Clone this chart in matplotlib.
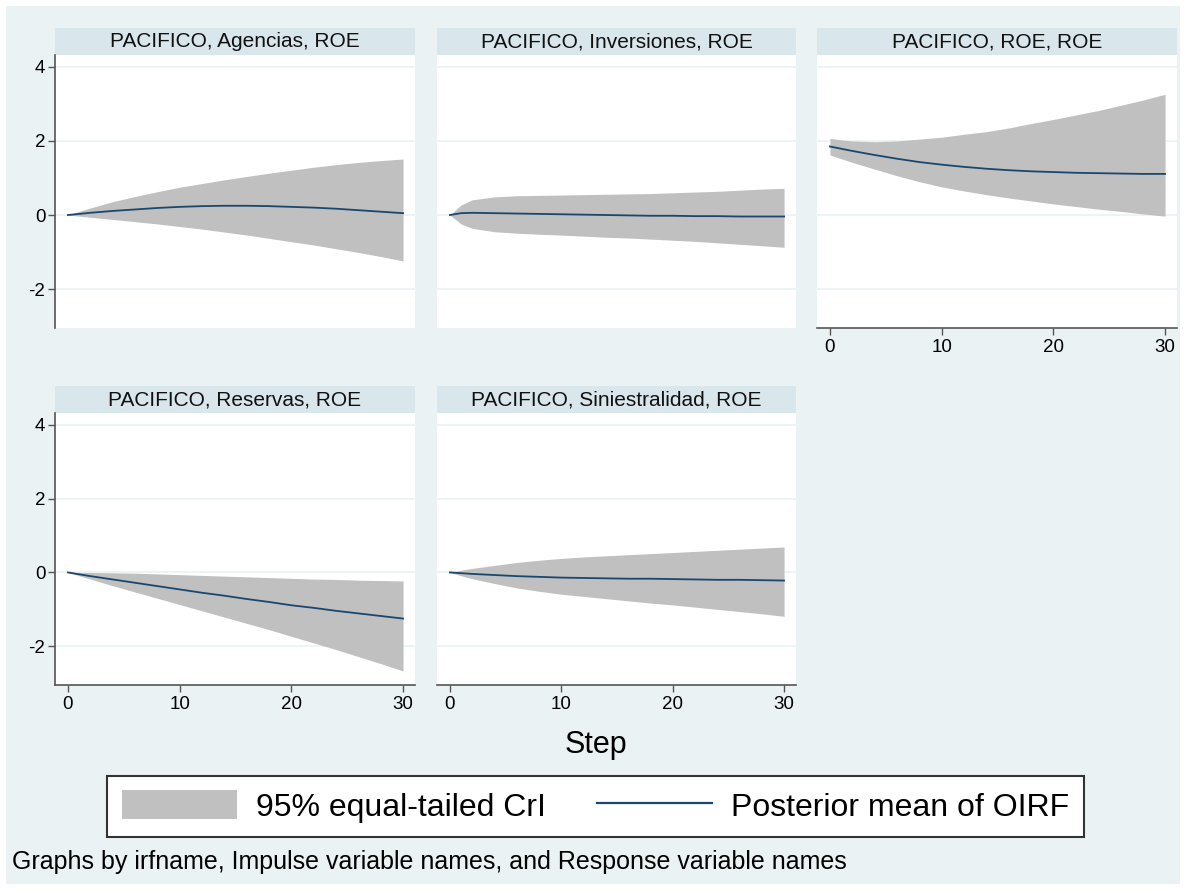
import numpy as np
import matplotlib
matplotlib.use("Agg")
import matplotlib.pyplot as plt
from matplotlib.patches import Patch, Rectangle
from matplotlib.lines import Line2D

plt.rcParams['font.family'] = ['Liberation Sans', 'DejaVu Sans']
plt.rcParams['axes.unicode_minus'] = False

# steps of the impulse response
steps = [0, 1, 2, 4, 6, 8, 10, 12, 14, 16, 18, 20, 22, 24, 26, 28, 30]

titles = ["PACIFICO, Agencias, ROE", "PACIFICO, Inversiones, ROE", "PACIFICO, ROE, ROE",
          "PACIFICO, Reservas, ROE", "PACIFICO, Siniestralidad, ROE"]

# Agencias -> ROE
agen_mean = [0, 0.03, 0.06, 0.11, 0.15, 0.19, 0.22, 0.24, 0.25, 0.25, 0.24, 0.22, 0.2, 0.17, 0.13, 0.09, 0.05]
agen_hi = [0, 0.1, 0.19, 0.36, 0.5, 0.63, 0.75, 0.85, 0.95, 1.04, 1.13, 1.21, 1.29, 1.36, 1.42, 1.47, 1.51]
agen_lo = [0, -0.03, -0.06, -0.12, -0.18, -0.24, -0.31, -0.38, -0.46, -0.54, -0.63, -0.72, -0.81, -0.91, -1.01, -1.12, -1.24]

# Inversiones -> ROE
inv_mean = [0, 0.05, 0.06, 0.05, 0.04, 0.03, 0.02, 0.01, 0.0, -0.01, -0.02, -0.02, -0.03, -0.03, -0.04, -0.04, -0.04]
inv_hi = [0, 0.27, 0.41, 0.49, 0.52, 0.53, 0.54, 0.55, 0.56, 0.57, 0.58, 0.6, 0.62, 0.64, 0.67, 0.7, 0.72]
inv_lo = [0, -0.24, -0.36, -0.45, -0.49, -0.52, -0.54, -0.57, -0.6, -0.62, -0.65, -0.68, -0.71, -0.75, -0.79, -0.83, -0.87]

# ROE -> ROE
roe_mean = [1.85, 1.79, 1.73, 1.62, 1.52, 1.43, 1.36, 1.3, 1.25, 1.21, 1.18, 1.16, 1.14, 1.13, 1.12, 1.11, 1.11]
roe_hi = [2.07, 2.03, 2.0, 1.98, 2.0, 2.05, 2.1, 2.18, 2.25, 2.35, 2.47, 2.58, 2.7, 2.82, 2.96, 3.1, 3.26]
roe_lo = [1.62, 1.52, 1.42, 1.24, 1.06, 0.9, 0.76, 0.65, 0.55, 0.46, 0.38, 0.3, 0.23, 0.16, 0.1, 0.03, -0.03]

# Reservas -> ROE
res_mean = [0, -0.05, -0.1, -0.19, -0.28, -0.37, -0.46, -0.55, -0.63, -0.72, -0.8, -0.89, -0.96, -1.04, -1.11, -1.18, -1.25]
res_hi = [0, 0.0, 0.0, -0.01, -0.02, -0.04, -0.06, -0.08, -0.1, -0.12, -0.14, -0.16, -0.18, -0.19, -0.21, -0.22, -0.23]
res_lo = [0, -0.09, -0.18, -0.36, -0.53, -0.7, -0.87, -1.04, -1.21, -1.38, -1.55, -1.73, -1.91, -2.09, -2.28, -2.47, -2.67]

# Siniestralidad -> ROE
sin_mean = [0, -0.02, -0.04, -0.07, -0.1, -0.12, -0.14, -0.15, -0.16, -0.17, -0.17, -0.18, -0.19, -0.2, -0.2, -0.21, -0.22]
sin_hi = [0, 0.06, 0.11, 0.19, 0.27, 0.33, 0.38, 0.42, 0.45, 0.48, 0.51, 0.54, 0.57, 0.6, 0.63, 0.66, 0.69]
sin_lo = [0, -0.09, -0.17, -0.3, -0.42, -0.51, -0.59, -0.65, -0.71, -0.77, -0.83, -0.88, -0.94, -1.0, -1.06, -1.12, -1.19]

means = [agen_mean, inv_mean, roe_mean, res_mean, sin_mean]
his = [agen_hi, inv_hi, roe_hi, res_hi, sin_hi]
los = [agen_lo, inv_lo, roe_lo, res_lo, sin_lo]

W, H = 1186, 890
bg = "#eaf2f3"
strip_col = "#d9e6eb"
band_col = "#c0c0c0"
line_col = "#1a476f"
axis_col = "#555555"

fig = plt.figure(figsize=(W / 100, H / 100), dpi=100, facecolor="white")
fig.patches.append(Rectangle((6 / W, 6 / H), (W - 12) / W, (H - 12) / H,
                             transform=fig.transFigure, facecolor=bg, edgecolor="none", zorder=-10))

# panel positions in pixels: (left, right), (top, bottom)
cols = [(55, 415), (437, 796), (817, 1177)]
rows = [(55, 328), (413, 685)]
strip_h = 27
cells = [(0, 0), (0, 1), (0, 2), (1, 0), (1, 1)]

for k, (r, c) in enumerate(cells):
    x0, x1 = cols[c]
    y0, y1 = rows[r]
    ax = fig.add_axes([x0 / W, 1 - y1 / H, (x1 - x0) / W, (y1 - y0) / H])
    ax.set_facecolor("white")
    ax.fill_between(steps, los[k], his[k], color=band_col, lw=0, zorder=2)
    ax.plot(steps, means[k], color=line_col, lw=1.3, zorder=3)
    ax.set_xlim(-1.16, 31.07)
    ax.set_ylim(-3.05, 4.32)
    ax.set_yticks([-2, 0, 2, 4])
    ax.set_xticks([0, 10, 20, 30])
    ax.grid(axis="y", color=bg, lw=1.2, zorder=1)
    for s in ax.spines.values():
        s.set_visible(False)
    show_y = c == 0
    show_x = (r == 1) or (c == 2)
    ax.tick_params(axis="y", left=show_y, labelleft=show_y, length=5, width=1,
                   color=axis_col, labelsize=13.5, pad=2)
    ax.tick_params(axis="x", bottom=show_x, labelbottom=show_x, length=5, width=1,
                   color=axis_col, labelsize=13.5, pad=3)
    if show_y:
        ax.spines["left"].set_visible(True)
        ax.spines["left"].set_color(axis_col)
        ax.spines["left"].set_linewidth(1.2)
    if show_x:
        ax.spines["bottom"].set_visible(True)
        ax.spines["bottom"].set_color(axis_col)
        ax.spines["bottom"].set_linewidth(1.2)
    # title strip
    fig.patches.append(Rectangle((x0 / W, 1 - y0 / H), (x1 - x0) / W, strip_h / H,
                                 transform=fig.transFigure, facecolor=strip_col,
                                 edgecolor="none", zorder=-5))
    fig.text((x0 + x1) / 2 / W, 1 - (y0 - strip_h / 2) / H, titles[k],
             ha="center", va="center", fontsize=15, color="#111111")

fig.text(596 / W, 1 - 745 / H, "Step", ha="center", va="center", fontsize=22)

handles = [Patch(facecolor=band_col, edgecolor="none"),
           Line2D([], [], color=line_col, lw=1.6)]
leg = fig.legend(handles, ["95% equal-tailed CrI", "Posterior mean of OIRF"],
                 loc="center", bbox_to_anchor=(595.5 / W, 1 - 806.5 / H), ncol=2,
                 fontsize=23, frameon=True, fancybox=False, framealpha=1,
                 edgecolor="#333333", handlelength=3.6, handleheight=1.0,
                 handletextpad=0.6, columnspacing=1.6, borderpad=0.45)
leg.get_frame().set_linewidth(1.5)

fig.text(12 / W, 1 - 862 / H, "Graphs by irfname, Impulse variable names, and Response variable names",
         ha="left", va="center", fontsize=18)

fig.savefig("out.png", dpi=100, facecolor=fig.get_facecolor())
